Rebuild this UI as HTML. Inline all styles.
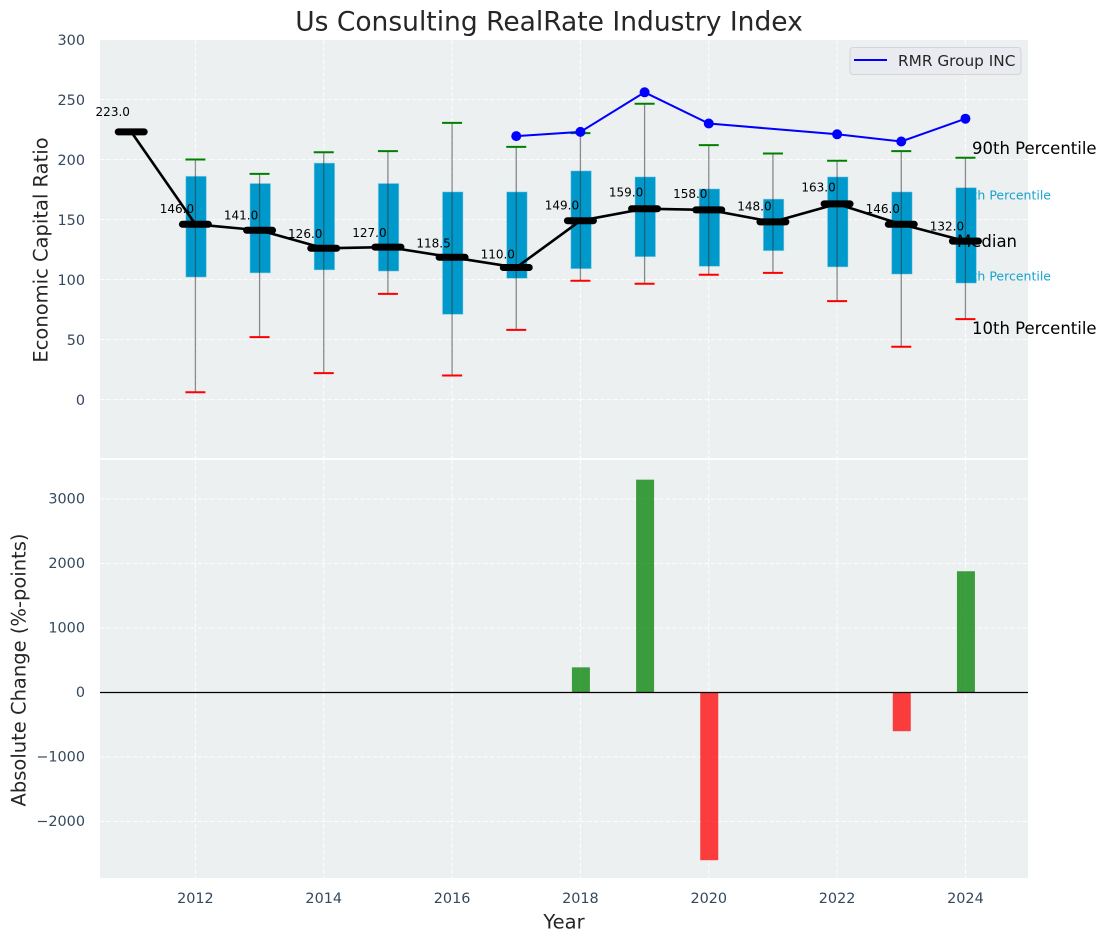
<!DOCTYPE html>
<html lang="en">
<head>
<meta charset="utf-8">
<title>Us Consulting RealRate Industry Index</title>
<style>
html,body{margin:0;padding:0;background:#fff;}
svg{display:block;font-family:"DejaVu Sans","Liberation Sans",sans-serif;}
</style>
</head>
<body>
<svg id="chart" xmlns="http://www.w3.org/2000/svg" width="1107" height="942" viewBox="0 0 1107 942">
  <text x="549" y="22" text-anchor="middle" dominant-baseline="central" font-size="26.5px" fill="#262626">Us Consulting RealRate Industry Index</text>
  <rect x="100" y="40" width="928" height="418" fill="#ecf0f1"/>
  <rect x="100" y="460" width="928" height="418" fill="#ecf0f1"/>
  <g id="grid"></g>
  <g id="bars"></g>
  <text x="1051" y="195" text-anchor="end" dominant-baseline="central" font-size="12.5px" fill="#0099cc" opacity="0.9">75th Percentile</text>
  <text x="1051" y="276" text-anchor="end" dominant-baseline="central" font-size="12.5px" fill="#0099cc" opacity="0.9">25th Percentile</text>
  <g id="boxes"></g>
  <g id="medians"></g>
  <g id="company"></g>
  <g id="ticks"></g>
  <text x="972" y="148.6" dominant-baseline="central" font-size="16.5px" fill="#000">90th Percentile</text>
  <text x="957" y="241.6" dominant-baseline="central" font-size="16.5px" fill="#000">Median</text>
  <text x="972" y="328.6" dominant-baseline="central" font-size="16.5px" fill="#000">10th Percentile</text>
  <text transform="translate(41 250) rotate(-90)" text-anchor="middle" dominant-baseline="central" font-size="19.5px" fill="#262626">Economic Capital Ratio</text>
  <text transform="translate(19 670) rotate(-90)" text-anchor="middle" dominant-baseline="central" font-size="19.5px" fill="#262626">Absolute Change (%-points)</text>
  <text x="564" y="922" text-anchor="middle" dominant-baseline="central" font-size="19.5px" fill="#262626">Year</text>
  <g>
    <rect x="850" y="47.5" width="171" height="27" rx="3" fill="#e9ebf0" stroke="#d2d4d8" stroke-width="1"/>
    <line x1="854" y1="60" x2="887" y2="60" stroke="#0000ff" stroke-width="2"/>
    <text x="898" y="61" dominant-baseline="central" font-size="15.3px" fill="#262626">RMR Group INC</text>
  </g>
</svg>
<script>
var years = [2011,2012,2013,2014,2015,2016,2017,2018,2019,2020,2021,2022,2023,2024];
var medianValues = [223,146,141,126,127,118.5,110,149,159,158,148,163,146,132];
var p10Values = [null,6,52,22,88,20,58,99,96.5,104,105.5,82,44,67];
var p25Values = [null,102,105.5,108,107,71,101,109,119,111,124,110.5,104.5,97];
var p75Values = [null,186,180,197,180,173,173,190.5,185.5,175.5,167,185.5,173,176.5];
var p90Values = [null,200,188,206,207,230.5,210.5,222,246.5,212,205,199,207,201.5];
var companyYears = [2017,2018,2019,2020,2022,2023,2024];
var companyValues = [219.5,223,256,230,221,215,234];
var changeYears = [2018,2019,2020,2023,2024];
var changeValues = [390,3300,-2600,-600,1880];
var xTicks = [2012,2014,2016,2018,2020,2022,2024];
var topYTicks = [0,50,100,150,200,250,300];
var bottomYTicks = [-2000,-1000,0,1000,2000,3000];

var NS = 'http://www.w3.org/2000/svg';
function xScale(y){ return 195.4 + (y - 2012) * 64.17; }
function yTop(v){ return 399.5 - v * 1.2; }
function yBottom(v){ return 692.5 - v * 0.0645; }
function mk(parentId, tag, attrs){
  var el = document.createElementNS(NS, tag);
  for (var k in attrs) el.setAttribute(k, attrs[k]);
  document.getElementById(parentId).appendChild(el);
  return el;
}
function tickText(v){ return String(v).replace('-', '\u2212'); }
var el, i;

/* grid */
var gridStyle = {stroke:'#ffffff','stroke-width':1.1,'stroke-dasharray':'4.5 2','stroke-opacity':0.85};
function gridLine(x1,y1,x2,y2){
  var a = {x1:x1,y1:y1,x2:x2,y2:y2};
  for (var k in gridStyle) a[k] = gridStyle[k];
  return mk('grid','line',a);
}
xTicks.forEach(function(t){
  el = gridLine(xScale(t),40,xScale(t),458);
  
  
  el = gridLine(xScale(t),460,xScale(t),878);
  
  
  el = mk('ticks','text',{x:xScale(t),y:899,'text-anchor':'middle','dominant-baseline':'central','font-size':'14.4px',fill:'#34495e'});
  el.textContent = t;
  
  
});
topYTicks.forEach(function(t){
  el = gridLine(100,yTop(t),1028,yTop(t));
  
  
  el = mk('ticks','text',{x:85,y:yTop(t)+1.5,'text-anchor':'end','dominant-baseline':'central','font-size':'14.4px',fill:'#34495e'});
  el.textContent = tickText(t);
  
  
});
bottomYTicks.forEach(function(t){
  el = gridLine(100,yBottom(t),1028,yBottom(t));
  
  
  el = mk('ticks','text',{x:85,y:yBottom(t)+0.5,'text-anchor':'end','dominant-baseline':'central','font-size':'14.4px',fill:'#34495e'});
  el.textContent = tickText(t);
  
  
});

/* change bars */
for (i = 0; i < changeYears.length; i++) {
  var changeValue = changeValues[i];
  var barWidth = 18;
  el = mk('bars','rect',{x:xScale(changeYears[i])-barWidth/2+0.5,y:Math.min(yBottom(changeValue),yBottom(0)),width:barWidth,height:Math.abs(yBottom(changeValue)-yBottom(0)),fill:changeValue>=0?'#008000':'#ff0000','fill-opacity':0.75});
  
  
}
el = mk('bars','line',{x1:100,x2:1028,y1:yBottom(0),y2:yBottom(0),stroke:'#000','stroke-width':1.3});



/* boxes and whiskers */
for (i = 0; i < years.length; i++) {
  if (p10Values[i] === null) continue;
  var boxX = xScale(years[i]);
  var boxTop = yTop(p75Values[i]), boxBottom = yTop(p25Values[i]);
  el = mk('boxes','rect',{x:boxX-9.6,y:boxTop,width:20.5,height:boxBottom-boxTop,fill:'#0099cc',stroke:'#8fd0e6','stroke-opacity':0.6,'stroke-width':0.8});
  
  
  el = mk('boxes','line',{x1:boxX,x2:boxX,y1:yTop(p90Values[i]),y2:yTop(p10Values[i]),stroke:'#333','stroke-opacity':0.55,'stroke-width':1.3});
  
  
  el = mk('boxes','line',{x1:boxX-10,x2:boxX+10,y1:yTop(p90Values[i]),y2:yTop(p90Values[i]),stroke:'#008000','stroke-width':2});
  
  
  el = mk('boxes','line',{x1:boxX-10,x2:boxX+10,y1:yTop(p10Values[i]),y2:yTop(p10Values[i]),stroke:'#ff0000','stroke-width':2});
  
  
}

/* median series */
var medianPts = years.map(function(y,j){ return xScale(y)+','+yTop(medianValues[j]); }).join(' ');
el = mk('medians','polyline',{points:medianPts,fill:'none',stroke:'#000','stroke-width':2.6,'stroke-linejoin':'round'});


for (i = 0; i < years.length; i++) {
  var mx = xScale(years[i]), my = yTop(medianValues[i]);
  el = mk('medians','line',{x1:mx-13,x2:mx+13,y1:my,y2:my,stroke:'#000','stroke-width':7,'stroke-linecap':'round'});
  
  
  el = mk('medians','text',{x:mx-18.5,y:yTop(medianValues[i]*1.05+6)+0.7,'text-anchor':'middle','dominant-baseline':'central','font-size':'12px',fill:'#000'});
  el.textContent = medianValues[i].toFixed(1);
  
  
}

/* company series */
var companyPts = companyYears.map(function(y,j){ return xScale(y)+','+yTop(companyValues[j]); }).join(' ');
el = mk('company','polyline',{points:companyPts,fill:'none',stroke:'#0000ff','stroke-width':2});


for (i = 0; i < companyYears.length; i++) {
  el = mk('company','circle',{cx:xScale(companyYears[i]),cy:yTop(companyValues[i]),r:5,fill:'#0000ff'});
  
  
}
</script>
</body>
</html>
